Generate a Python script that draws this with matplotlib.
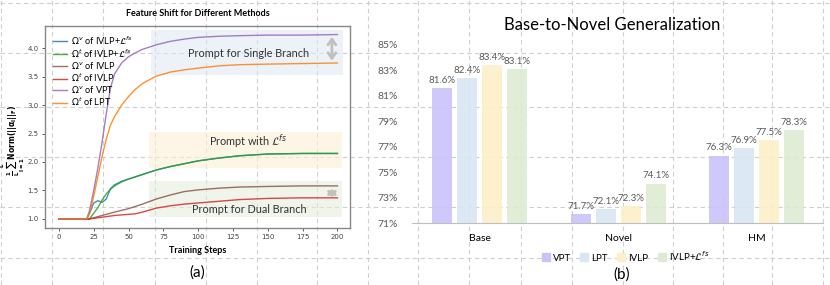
import matplotlib
matplotlib.use("Agg")
import matplotlib.pyplot as plt
from matplotlib.lines import Line2D
from matplotlib.patches import Rectangle

plt.rcParams['font.family'] = ['Lato', 'DejaVu Sans']
plt.rcParams['mathtext.fontset'] = 'dejavusans'

# ---------------- data: panel (a) ----------------
steps = [0, 5, 10, 15, 20, 22, 25, 28, 31, 34, 37, 40, 45, 50, 55, 60, 70, 80, 90, 100, 115, 130, 150, 175, 200]
v_ivlp_fs = [1.0, 1.0, 1.0, 1.0, 1.0, 1.1, 1.28, 1.32, 1.29, 1.35, 1.53, 1.60, 1.66, 1.70, 1.74, 1.78, 1.86, 1.92, 1.97, 2.02, 2.07, 2.11, 2.14, 2.15, 2.15]
t_ivlp_fs = [1.0, 1.0, 1.0, 1.0, 1.0, 1.0, 1.10, 1.20, 1.33, 1.44, 1.52, 1.58, 1.65, 1.70, 1.74, 1.78, 1.86, 1.92, 1.97, 2.02, 2.07, 2.11, 2.14, 2.15, 2.15]
v_ivlp = [1.0, 1.0, 1.0, 1.0, 1.0, 1.0, 1.02, 1.04, 1.06, 1.08, 1.10, 1.12, 1.15, 1.18, 1.22, 1.26, 1.35, 1.42, 1.48, 1.51, 1.54, 1.56, 1.57, 1.58, 1.58]
t_ivlp = [1.0, 1.0, 1.0, 1.0, 1.0, 1.0, 1.01, 1.02, 1.03, 1.04, 1.05, 1.06, 1.07, 1.08, 1.09, 1.12, 1.19, 1.23, 1.26, 1.28, 1.31, 1.34, 1.36, 1.37, 1.37]
v_vpt = [1.0, 1.0, 1.0, 1.0, 1.0, 1.15, 1.50, 1.90, 2.35, 2.85, 3.30, 3.55, 3.74, 3.85, 3.92, 3.98, 4.06, 4.12, 4.16, 4.19, 4.21, 4.22, 4.23, 4.23, 4.24]
t_lpt = [1.0, 1.0, 1.0, 1.0, 1.0, 1.10, 1.40, 1.75, 2.10, 2.40, 2.65, 2.80, 3.00, 3.15, 3.28, 3.38, 3.51, 3.58, 3.62, 3.65, 3.69, 3.71, 3.72, 3.73, 3.74]
series_labels = [r"$\Omega^v$ of IVLP+$\mathcal{L}^{fs}$", r"$\Omega^t$ of IVLP+$\mathcal{L}^{fs}$",
                 r"$\Omega^v$ of IVLP", r"$\Omega^t$ of IVLP", r"$\Omega^v$ of VPT", r"$\Omega^t$ of LPT"]
series_colors = ['#1f77b4', '#2ca02c', '#8c564b', '#d62728', '#9467bd', '#ff7f0e']

# ---------------- data: panel (b) ----------------
groups = ['Base', 'Novel', 'HM']
methods = ['VPT', 'LPT', 'IVLP', r'IVLP+$\mathcal{L}^{fs}$']
acc = {
    'VPT': [81.6, 71.7, 76.3],
    'LPT': [82.4, 72.1, 76.9],
    'IVLP': [83.4, 72.3, 77.5],
    'IVLP+': [83.1, 74.1, 78.3],
}
bar_colors = ['#c9c3fa', '#dae6f4', '#fdefc8', '#deebd3']
ytick_vals = [71, 73, 75, 77, 79, 81, 83, 85]

W, H = 830, 285
fig = plt.figure(figsize=(W / 100, H / 100), dpi=100)

# background dashed grid (figure-level decoration)
vx = [1, 52, 103, 155, 206, 257, 317, 368, 418, 469, 521, 572, 623, 673, 723, 772, 823]
hy = [3, 53, 107, 157, 207, 258]
for x in vx:
    fig.add_artist(Line2D([x / W, x / W], [0, 1], color='#cfcfcf', lw=0.8, ls=(0, (4, 3)), zorder=0))
for y in hy:
    fig.add_artist(Line2D([0, 1], [1 - y / H, 1 - y / H], color='#cfcfcf', lw=0.8, ls=(0, (4, 3)), zorder=0))

# ---------------- panel (a) ----------------
ax = fig.add_axes([45 / W, 1 - 228 / H, 305 / W, 202 / H])
ax.set_facecolor('none')
ax.set_zorder(2)
ax.set_xlim(-10, 209)
ax.set_ylim(0.84, 4.39)

ax.add_patch(Rectangle((66, 3.53), 138, 0.79, color='#dfe8f3', alpha=0.55, lw=0, zorder=1))
ax.add_patch(Rectangle((65, 1.90), 138, 0.63, color='#fdf1d8', alpha=0.6, lw=0, zorder=1))
ax.add_patch(Rectangle((65, 1.03), 138, 0.64, color='#e3eedb', alpha=0.55, lw=0, zorder=1))
ax.text(136, 3.91, 'Prompt for Single Branch', ha='center', va='center', fontsize=7.8, color='#333333', zorder=3)
ax.text(136, 2.35, r'Prompt with $\mathcal{L}^{fs}$', ha='center', va='center', fontsize=7.8, color='#333333', zorder=3)
ax.text(137, 1.16, 'Prompt for Dual Branch', ha='center', va='center', fontsize=7.8, color='#333333', zorder=3)

series = [v_ivlp_fs, t_ivlp_fs, v_ivlp, t_ivlp, v_vpt, t_lpt]
for s, lab, c in zip(series, series_labels, series_colors):
    ax.plot(steps, s, color=c, lw=1.0, alpha=0.85, label=lab, zorder=4)

ax.annotate('', xy=(196, 4.20), xytext=(196, 3.78),
            arrowprops=dict(arrowstyle='<->, head_width=0.35, head_length=0.5', color='#c0c0c0',
                            lw=2.0, mutation_scale=8, shrinkA=0, shrinkB=0), zorder=3)
ax.annotate('', xy=(196, 1.53), xytext=(196, 1.38),
            arrowprops=dict(arrowstyle='<->, head_width=0.35, head_length=0.4', color='#c0c0c0',
                            lw=2.0, mutation_scale=7, shrinkA=0, shrinkB=0), zorder=3)

ax.set_xticks([0, 25, 50, 75, 100, 125, 150, 175, 200])
ax.set_yticks([1.0, 1.5, 2.0, 2.5, 3.0, 3.5, 4.0])
ax.set_yticklabels(['1.0', '1.5', '2.0', '2.5', '3.0', '3.5', '4.0'])
ax.tick_params(labelsize=5, colors='#444444', length=2.5, width=0.6, pad=2)
for lab in ax.get_xticklabels() + ax.get_yticklabels():
    lab.set_family('DejaVu Sans')
for sp in ax.spines.values():
    sp.set_color('#888888')
    sp.set_linewidth(1.0)
ax.set_xlabel('Training Steps', fontsize=6.5, fontweight='bold', labelpad=4)
ax.set_title('Feature Shift for Different Methods', fontsize=6.5, fontweight='bold', pad=7)
fig.text(13 / W, 1 - 141 / H, r'$\mathbf{\frac{1}{L}\sum_{l=1}^{L}Norm(||\alpha_l||_F)}$', rotation=90,
         ha='center', va='center', fontsize=5.5)
ax.legend(loc='upper left', fontsize=6.6, frameon=False, handlelength=1.5, labelspacing=0.05,
          handletextpad=0.4, borderaxespad=0.5)

fig.text(197 / W, 1 - 273 / H, '(a)', ha='center', va='center', fontsize=11)

# ---------------- panel (b) ----------------
bx = fig.add_axes([412 / W, 1 - 223 / H, 411 / W, 191 / H])
bx.set_facecolor('none')
bx.set_xlim(-0.49, 2.48)
bx.set_ylim(71, 86)
width = 0.144
step = 0.18
keys = ['VPT', 'LPT', 'IVLP', 'IVLP+']
for i, (k, lab, c) in enumerate(zip(keys, methods, bar_colors)):
    xs = [g + (i - 1.5) * step for g in range(len(groups))]
    vals = acc[k]
    bx.bar(xs, [v - 71 for v in vals], width=width, bottom=71, color=c, alpha=0.9, label=lab, zorder=2)
    for x, v in zip(xs, vals):
        bx.text(x, v + 0.25, f'{v:.1f}%', ha='center', va='bottom', fontsize=7, color='#595959')

bx.set_xticks(range(len(groups)))
bx.set_xticklabels(groups, fontsize=7.5)
bx.set_yticks(ytick_vals)
bx.set_yticklabels([f'{v}%' for v in ytick_vals], fontsize=7.5, color='#595959')
bx.tick_params(length=0, pad=10)
bx.tick_params(axis='x', pad=8)
for s in ['left', 'right', 'top']:
    bx.spines[s].set_visible(False)
bx.spines['bottom'].set_color('#bfbfbf')
fig.text(612 / W, 1 - 25 / H, 'Base-to-Novel Generalization', ha='center', va='center', fontsize=12)
handles = [Line2D([], [], marker='s', ls='', markersize=5.5, color=c) for c in bar_colors]
fig.legend(handles, methods, loc='center', bbox_to_anchor=(625 / W, 1 - 256 / H), ncol=4,
           fontsize=7, frameon=False, handletextpad=0.2, columnspacing=0.9, handlelength=1.0)
fig.text(622 / W, 1 - 275 / H, '(b)', ha='center', va='center', fontsize=11)

fig.savefig('out.png', dpi=100)
